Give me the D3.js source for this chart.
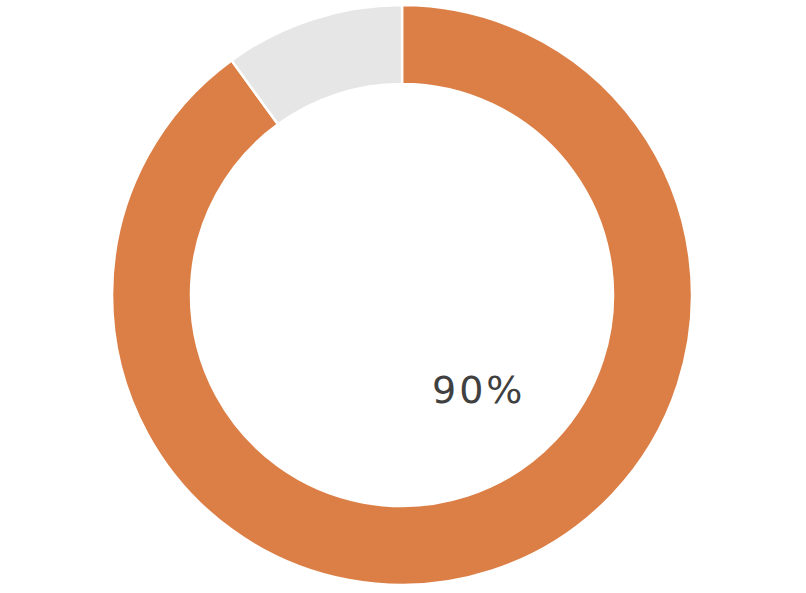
<!DOCTYPE html>
<html>
<head>
<meta charset="utf-8">
<script src="https://cdn.jsdelivr.net/npm/d3@7"></script>
<style>
  body { margin: 0; background: #fff; }
</style>
</head>
<body>
<svg id="chart" width="806" height="593"></svg>
<script>
// Data
const labels = ["Done", "Remaining"];
const values = [90, 10];
const colors = ["#DC7F46", "#E6E6E6"];
const valueLabel = "90%";

const svg = d3.select("#chart");

// Center and radii
const cx = 402, cy = 295;
const outerR = 290, innerR = 211;

const pie = d3.pie().sort(null).value((d) => d);
const arc = d3.arc().innerRadius(innerR).outerRadius(outerR);

const g = svg.append("g").attr("transform", `translate(${cx},${cy})`);

// Slices
g.selectAll("path")
  .data(pie(values))
  .enter()
  .append("path")
  .attr("d", arc)
  .attr("fill", (d, i) => colors[i])
  .attr("stroke", "#fff")
  .attr("stroke-width", 2.5);

// Value label
g.append("text")
  .attr("x", 76)
  .attr("y", 108)
  .attr("text-anchor", "start")
  .attr("dx", -46)
  .attr("font-family", "DejaVu Sans, sans-serif")
  .attr("font-size", 38)
  .attr("letter-spacing", 3)
  .attr("fill", "#404040")
  .text(valueLabel);
</script>
</body>
</html>
